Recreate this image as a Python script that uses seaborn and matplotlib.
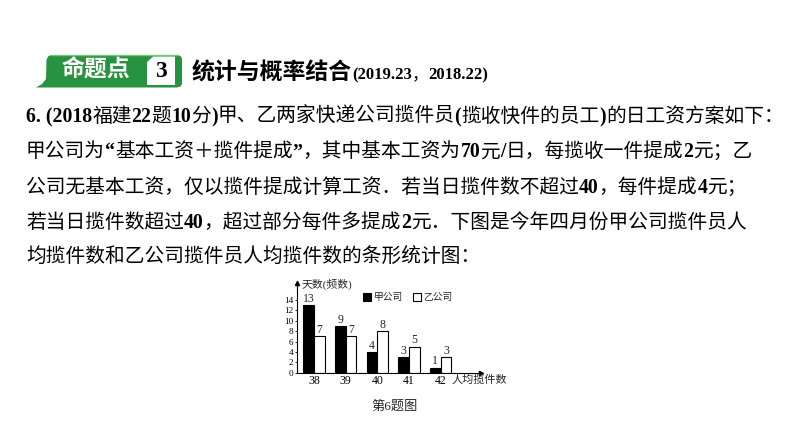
import numpy as np
import pandas as pd
import matplotlib
matplotlib.use('Agg')
import matplotlib.pyplot as plt
import seaborn as sns
from matplotlib.patches import Polygon, Rectangle

# ---------------- data ----------------
categories = ['38', '39', '40', '41', '42']
jia_days = [13, 9, 4, 3, 1]
yi_days = [7, 7, 8, 5, 3]
companies = ['甲公司', '乙公司']
y_ticks = [0, 2, 4, 6, 8, 10, 12, 14]

header_tag = '命题点'
header_num = '3'
header_title = '统计与概率结合'
header_ref = '(2019.23，2018.22)'
body_lines = [
    '6. (2018福建22题10分)甲、乙两家快递公司揽件员(揽收快件的员工)的日工资方案如下：',
    '甲公司为“基本工资＋揽件提成”，其中基本工资为70元/日，每揽收一件提成2元；乙',
    '公司无基本工资，仅以揽件提成计算工资．若当日揽件数不超过40，每件提成4元；',
    '若当日揽件数超过40，超过部分每件多提成2元．下图是今年四月份甲公司揽件员人',
    '均揽件数和乙公司揽件员人均揽件数的条形统计图：',
]
caption = '第6题图'
y_label = '天数(频数)'
x_label = '人均揽件数'

# ---------------- setup ----------------
sns.set_theme(style='white')
plt.rcParams['font.family'] = ['Liberation Serif', 'Noto Sans CJK SC']
W, H = 794, 447
fig = plt.figure(figsize=(W / 100, H / 100), dpi=100)
fig.patch.set_facecolor('white')
renderer = fig.canvas.get_renderer()

bg = fig.add_axes([0, 0, 1, 1])
bg.set_xlim(0, W)
bg.set_ylim(H, 0)
bg.axis('off')

CJK = 'Noto Sans CJK SC'
LAT = 'Liberation Serif'


def draw_runs(x, y, text, cjk_size, lat_size, color='black', cjk_weight='normal'):
    runs = []
    for ch in text:
        lat = ord(ch) < 128 or ch in '“”'
        if runs and runs[-1][1] == lat:
            runs[-1][0] += ch
        else:
            runs.append([ch, lat])
    for s, lat in runs:
        if lat:
            t = bg.text(x, y, s, fontsize=lat_size, fontweight='bold', family=LAT,
                        color=color, va='baseline', ha='left')
        else:
            t = bg.text(x, y, s, fontsize=cjk_size, fontweight=cjk_weight, family=CJK,
                        color=color, va='baseline', ha='left')
        bb = t.get_window_extent(renderer)
        x += bb.width
    return x


# ---------------- header badge ----------------
green = '#27923f'
badge = Polygon([(36, 87.5), (42, 84), (46, 79), (46.5, 60), (48, 56.5), (51, 55),
                 (178, 55), (181, 56.5), (182, 59), (182, 84), (180.5, 86.5), (177, 87.5)],
                closed=True, facecolor=green, edgecolor='none')
bg.add_patch(badge)
bg.plot([51, 178], [55.3, 55.3], color='#7cc47e', lw=1.0)
box = Polygon([(147, 62), (153, 56.5), (175, 56.5), (175, 85), (147, 85)], closed=True,
              facecolor='white', edgecolor='none')
bg.add_patch(box)
bg.text(96, 70, header_tag, fontsize=16.5, fontweight='bold', family=CJK, color='white',
        ha='center', va='center')
bg.text(161, 71.5, header_num, fontsize=17, fontweight='bold', family=LAT, color='black',
        ha='center', va='center')
xe = draw_runs(192, 79, header_title, 16.5, 12, cjk_weight='bold')
draw_runs(xe, 79, header_ref, 12, 12)

# ---------------- body text ----------------
for i, line in enumerate(body_lines):
    draw_runs(26, 122 + 35.3 * i, line, 14.2, 14.2)

# ---------------- chart ----------------
ax = fig.add_axes([297 / W, 1 - 372.7 / H, 184 / W, 89.7 / H])
df = pd.DataFrame({
    'count': categories * 2,
    'days': jia_days + yi_days,
    'company': [companies[0]] * len(categories) + [companies[1]] * len(categories),
})
sns.barplot(data=df, x='count', y='days', hue='company', hue_order=companies,
            palette=['black', 'white'], saturation=1, edgecolor='black', linewidth=0.8,
            width=0.68, gap=0, ax=ax, legend=False, errorbar=None)
for cont in ax.containers:
    ax.bar_label(cont, padding=0.3, fontsize=8.5, family=LAT)

ax.set_xlim(-0.54, 5.28)
ax.set_ylim(0, 17.3)
ax.set_yticks(y_ticks)
ax.set_xlabel('')
ax.set_ylabel('')
ax.set_facecolor('none')
for s in ['top', 'right']:
    ax.spines[s].set_visible(False)
for s in ['left', 'bottom']:
    ax.spines[s].set_color('black')
    ax.spines[s].set_linewidth(0.8)
ax.tick_params(axis='y', length=1.5, width=0.6, pad=1, labelsize=6.6, colors='black', left=True)
ax.tick_params(axis='x', length=0, pad=2, labelsize=8.5, colors='black')
ax.plot(1, 0, marker='>', color='black', markersize=3, transform=ax.transAxes, clip_on=False)
ax.plot(0, 1, marker='^', color='black', markersize=3, transform=ax.transAxes, clip_on=False)

handles = [Rectangle((0, 0), 1, 1, facecolor='black', edgecolor='black', lw=0.8),
           Rectangle((0, 0), 1, 1, facecolor='white', edgecolor='black', lw=0.8)]
ax.legend(handles, companies, loc='center left', bbox_to_anchor=(0.36, 0.835), ncol=2,
          frameon=False, fontsize=7, handlelength=0.8, handleheight=0.8,
          handletextpad=0.3, columnspacing=1.0, borderpad=0, borderaxespad=0)

ax.text(0.022, 0.99, y_label, transform=ax.transAxes, fontsize=7.8, va='center', ha='left')
ax.text(0.842, -0.08, x_label, transform=ax.transAxes, fontsize=8, va='center', ha='left')

bg.text(395, 407, caption, fontsize=9.5, family=[LAT, CJK], ha='center', va='center')

fig.savefig('out.png', dpi=100, facecolor='white')
